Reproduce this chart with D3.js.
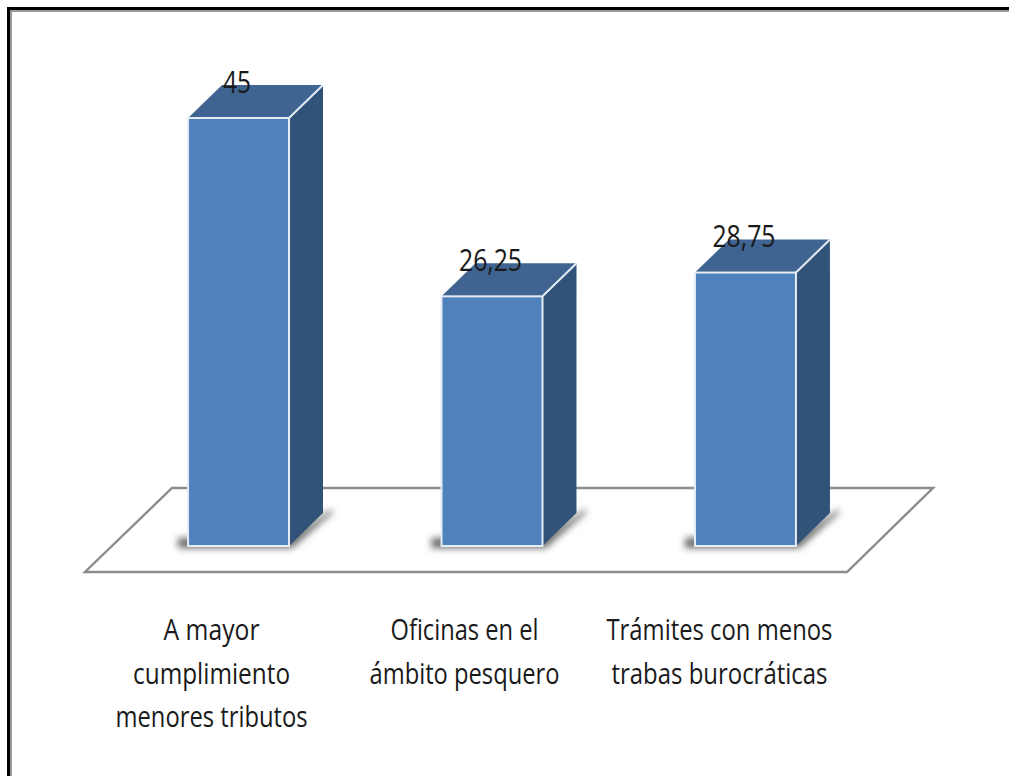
<!DOCTYPE html>
<html>
<head>
<meta charset="utf-8">
<script src="https://cdn.jsdelivr.net/npm/d3@7"></script>
<style>
    html, body { margin: 0; padding: 0; background: #fff; overflow: hidden; }
    svg { display: block; }
    text { font-family: "Open Sans", "Noto Sans", sans-serif; fill: #1a1a1a; }
</style>
</head>
<body>
<div id="chart"></div>
<script>
const categories = ["A mayor cumplimiento menores tributos", "Oficinas en el ámbito pesquero", "Trámites con menos trabas burocráticas"];
const values = [45, 26.25, 28.75];
const valueLabels = ["45", "26,25", "28,75"];
const categoryLines = [
    ["A mayor", "cumplimiento", "menores tributos"],
    ["Oficinas en el", "ámbito pesquero"],
    ["Trámites con menos", "trabas burocráticas"]
];

function init() {
    var w = 1009;
    var h = 776;

    // measured widths of the squeezed labels
    const valueWidths = [28, 63, 63];
    const lineWidths = [[96, 157, 192], [148, 190], [226, 216]];
    const labelShift = [-27, -27.5, -26];

    const svg = d3.select("#chart")
        .append("svg")
        .attr("width", w)
        .attr("height", h);

    const defs = svg.append("defs");
    defs.append("filter").attr("id", "blur")
        .attr("x", "-30%").attr("y", "-100%").attr("width", "160%").attr("height", "300%")
        .append("feGaussianBlur").attr("stdDeviation", 3.5);
    defs.append("filter").attr("id", "soft")
        .attr("x", "-5%").attr("y", "-10%").attr("width", "110%").attr("height", "120%")
        .append("feGaussianBlur").attr("stdDeviation", 0.5);

    // picture frame, open at the right and bottom
    svg.append("rect").attr("x", 8.5).attr("y", 8.5)
        .attr("width", w + 20).attr("height", h + 20)
        .attr("fill", "none").attr("stroke", "#000").attr("stroke-width", 3);
    svg.append("rect").attr("x", 11).attr("y", 11)
        .attr("width", w + 20).attr("height", h + 20)
        .attr("fill", "none").attr("stroke", "#999").attr("stroke-width", 2);

    const xScale = d3.scaleBand()
        .domain(categories)
        .range([112, 872])
        .paddingInner(0.6016)
        .paddingOuter(0.3);

    const yScale = d3.scaleLinear()
        .domain([0, 45])
        .range([546, 118]);

    const dx = 34;
    const dy = 33;

    // floor
    const floorY = 572;
    const floorBack = 488;
    svg.append("path")
        .attr("d", d3.line()([[85, floorY], [847, floorY], [933, floorBack], [172, floorBack]]) + "Z")
        .attr("fill", "#fff")
        .attr("stroke", "#8c8c8c")
        .attr("stroke-width", 2.4)
        .attr("filter", "url(#soft)");

    const bars = svg.selectAll("g.bar")
        .data(categories)
        .enter()
        .append("g")
        .attr("class", "bar");

    // shadows on the floor
    bars.append("path")
        .attr("d", d => {
            const x0 = xScale(d), x1 = x0 + xScale.bandwidth(), y0 = yScale(0);
            return d3.line()([[x0 - 10, y0 - 8], [x0 - 10, y0 + 2], [x1 + 3, y0 + 2], [x1 + dx + 9, y0 - dy], [x1 + dx + 9, y0 - dy - 4], [x1, y0 - 8]]) + "Z";
        })
        .attr("fill", "#666")
        .attr("filter", "url(#blur)");

    // side face
    bars.append("path")
        .attr("d", (d, i) => {
            const x1 = xScale(d) + xScale.bandwidth(), y0 = yScale(0), yt = yScale(values[i]);
            return d3.line()([[x1, yt], [x1 + dx, yt - dy], [x1 + dx, y0 - dy], [x1, y0]]) + "Z";
        })
        .attr("fill", "#325378");

    // top face
    bars.append("path")
        .attr("d", (d, i) => {
            const x0 = xScale(d), x1 = x0 + xScale.bandwidth(), yt = yScale(values[i]);
            return d3.line()([[x0, yt], [x0 + dx, yt - dy], [x1 + dx, yt - dy], [x1, yt]]) + "Z";
        })
        .attr("fill", "#3f6491");

    // front face
    bars.append("rect")
        .attr("x", d => xScale(d))
        .attr("y", (d, i) => yScale(values[i]))
        .attr("width", xScale.bandwidth())
        .attr("height", (d, i) => yScale(0) - yScale(values[i]))
        .attr("fill", "#4f81bd")
        .attr("stroke", "#e6ecf3")
        .attr("stroke-width", 2);

    // white edge going back from the top right corner
    bars.append("line")
        .attr("x1", d => xScale(d) + xScale.bandwidth())
        .attr("x2", d => xScale(d) + xScale.bandwidth() + dx)
        .attr("y1", (d, i) => yScale(values[i]))
        .attr("y2", (d, i) => yScale(values[i]) - dy)
        .attr("stroke", "#e6ecf3")
        .attr("stroke-width", 2);

    // value labels
    bars.append("text")
        .attr("x", d => xScale(d) + xScale.bandwidth() / 2 - 1.5)
        .attr("y", (d, i) => yScale(values[i]) - 25.5)
        .attr("text-anchor", "middle")
        .attr("font-size", 31)
        .attr("textLength", (d, i) => valueWidths[i])
        .attr("lengthAdjust", "spacingAndGlyphs")
        .text((d, i) => valueLabels[i]);

    // category labels
    categoryLines.forEach((lines, i) => {
        svg.selectAll("text.cat" + i)
            .data(lines)
            .enter()
            .append("text")
            .attr("class", "cat" + i)
            .attr("x", xScale(categories[i]) + xScale.bandwidth() / 2 + labelShift[i])
            .attr("y", (d, j) => 640 + j * 43.5)
            .attr("text-anchor", "middle")
            .attr("font-size", 30)
            .attr("textLength", (d, j) => lineWidths[i][j])
            .attr("lengthAdjust", "spacingAndGlyphs")
            .text(d => d);
    });
}

window.onload = init;
</script>
</body>
</html>
